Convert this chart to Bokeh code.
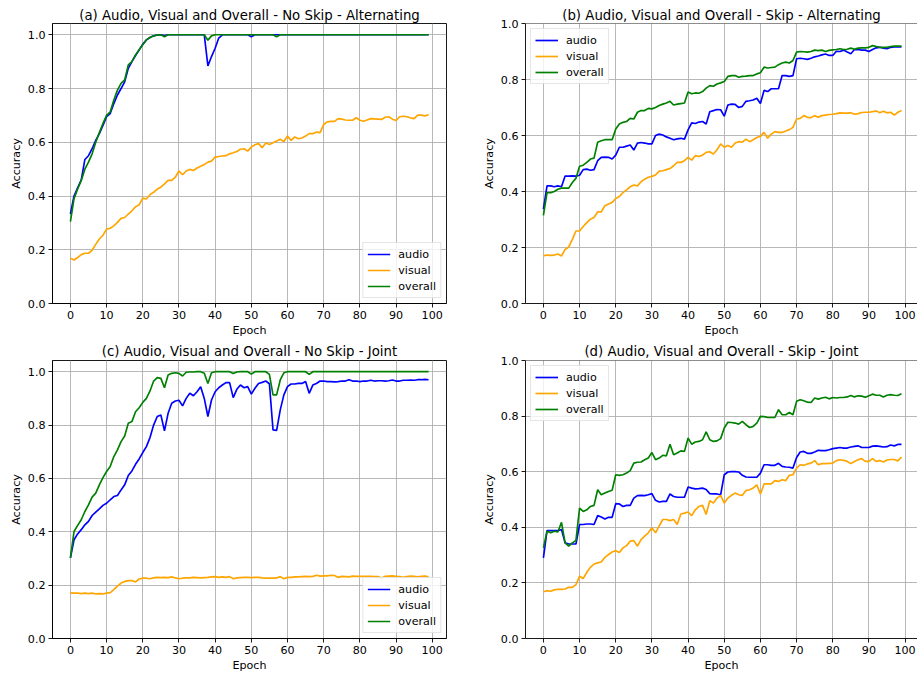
from bokeh.plotting import figure
from bokeh.layouts import column, row
from bokeh.models import Range1d, FixedTicker, PrintfTickFormatter, Span
from bokeh.embed import file_html
from bokeh.resources import INLINE

epochs = list(range(100))
x_ticks = [0, 10, 20, 30, 40, 50, 60, 70, 80, 90, 100]
y_ticks = [0.0, 0.2, 0.4, 0.6, 0.8, 1.0]
series_names = ["audio", "visual", "overall"]
series_colors = ["blue", "orange", "green"]

titles = [
    "(a) Audio, Visual and Overall - No Skip - Alternating",
    "(b) Audio, Visual and Overall - Skip - Alternating",
    "(c) Audio, Visual and Overall - No Skip - Joint",
    "(d) Audio, Visual and Overall - Skip - Joint",
]

# (a) No Skip - Alternating
a_audio = [0.333, 0.40, 0.43, 0.46, 0.536, 0.55, 0.576, 0.607, 0.632, 0.663,
           0.695, 0.707, 0.744, 0.776, 0.80, 0.825, 0.875, 0.90, 0.923, 0.944,
           0.965, 0.981, 0.99, 0.996, 0.999, 1.0, 0.997, 1.0, 1.0, 1.0,
           1.0, 1.0, 1.0, 1.0, 1.0, 1.0, 1.0, 1.0, 0.884, 0.919,
           0.95, 0.988, 1.0, 1.0, 1.0, 1.0, 1.0, 1.0, 1.0, 1.0,
           0.993, 1.0, 1.0, 1.0, 1.0, 1.0, 1.0, 1.0, 1.0, 1.0,
           1.0, 1.0, 1.0, 1.0, 1.0, 1.0, 1.0, 1.0, 1.0, 1.0,
           1.0, 1.0, 1.0, 1.0, 1.0, 1.0, 1.0, 1.0, 1.0, 1.0,
           1.0, 1.0, 1.0, 1.0, 1.0, 1.0, 1.0, 1.0, 1.0, 1.0,
           1.0, 1.0, 1.0, 1.0, 1.0, 1.0, 1.0, 1.0, 1.0, 1.0]
a_visual = [0.168, 0.162, 0.171, 0.182, 0.187, 0.187, 0.198, 0.22, 0.24, 0.254,
            0.277, 0.28, 0.289, 0.302, 0.317, 0.32, 0.333, 0.345, 0.36, 0.367,
            0.392, 0.389, 0.405, 0.414, 0.426, 0.433, 0.445, 0.458, 0.458, 0.47,
            0.493, 0.479, 0.493, 0.499, 0.495, 0.504, 0.511, 0.517, 0.526, 0.53,
            0.545, 0.547, 0.549, 0.55, 0.557, 0.561, 0.566, 0.574, 0.576, 0.567,
            0.582, 0.591, 0.595, 0.58, 0.597, 0.592, 0.598, 0.605, 0.611, 0.603,
            0.623, 0.607, 0.62, 0.613, 0.616, 0.623, 0.632, 0.632, 0.638, 0.636,
            0.666, 0.676, 0.678, 0.678, 0.688, 0.686, 0.683, 0.682, 0.682, 0.691,
            0.682, 0.678, 0.683, 0.688, 0.687, 0.686, 0.685, 0.693, 0.695, 0.686,
            0.681, 0.695, 0.697, 0.695, 0.691, 0.688, 0.701, 0.701, 0.698, 0.703]
a_overall = [0.305, 0.39, 0.426, 0.458, 0.50, 0.526, 0.557, 0.60, 0.636, 0.67,
             0.70, 0.713, 0.757, 0.794, 0.819, 0.832, 0.888, 0.90, 0.925, 0.944,
             0.963, 0.981, 0.99, 0.996, 0.999, 1.0, 0.993, 1.0, 1.0, 1.0,
             1.0, 1.0, 1.0, 1.0, 1.0, 1.0, 1.0, 1.0, 0.98, 0.996,
             1.0, 1.0, 1.0, 1.0, 1.0, 1.0, 1.0, 1.0, 1.0, 1.0,
             1.0, 1.0, 1.0, 1.0, 1.0, 1.0, 1.0, 0.993, 1.0, 1.0,
             1.0, 1.0, 1.0, 1.0, 1.0, 1.0, 1.0, 1.0, 1.0, 1.0,
             1.0, 1.0, 1.0, 1.0, 1.0, 1.0, 1.0, 1.0, 1.0, 1.0,
             1.0, 1.0, 1.0, 1.0, 1.0, 1.0, 1.0, 1.0, 1.0, 1.0,
             1.0, 1.0, 1.0, 1.0, 1.0, 1.0, 1.0, 1.0, 1.0, 1.0]

# (b) Skip - Alternating
b_audio = [0.337, 0.42, 0.42, 0.417, 0.42, 0.417, 0.455, 0.455, 0.456, 0.455,
           0.458, 0.478, 0.48, 0.476, 0.478, 0.51, 0.522, 0.523, 0.522, 0.516,
           0.53, 0.558, 0.558, 0.562, 0.566, 0.548, 0.573, 0.575, 0.573, 0.57,
           0.57, 0.60, 0.605, 0.602, 0.595, 0.59, 0.585, 0.588, 0.59, 0.587,
           0.62, 0.645, 0.643, 0.648, 0.65, 0.641, 0.685, 0.689, 0.693, 0.692,
           0.669, 0.709, 0.712, 0.711, 0.70, 0.704, 0.722, 0.724, 0.727, 0.733,
           0.714, 0.761, 0.757, 0.767, 0.767, 0.767, 0.814, 0.814, 0.811, 0.814,
           0.874, 0.876, 0.874, 0.872, 0.876, 0.881, 0.884, 0.888, 0.891, 0.886,
           0.886, 0.901, 0.90, 0.905, 0.898, 0.892, 0.907, 0.907, 0.905, 0.905,
           0.90, 0.907, 0.913, 0.915, 0.912, 0.91, 0.915, 0.916, 0.916, 0.916]
b_visual = [0.17, 0.173, 0.172, 0.173, 0.177, 0.17, 0.193, 0.202, 0.229, 0.259,
            0.259, 0.275, 0.289, 0.301, 0.307, 0.327, 0.327, 0.349, 0.355, 0.361,
            0.375, 0.382, 0.396, 0.406, 0.417, 0.423, 0.42, 0.435, 0.444, 0.451,
            0.454, 0.459, 0.473, 0.474, 0.478, 0.482, 0.492, 0.504, 0.504, 0.51,
            0.522, 0.512, 0.528, 0.525, 0.53, 0.54, 0.542, 0.534, 0.549, 0.57,
            0.558, 0.564, 0.558, 0.573, 0.578, 0.576, 0.587, 0.578, 0.585, 0.593,
            0.597, 0.611, 0.59, 0.605, 0.614, 0.611, 0.611, 0.616, 0.621, 0.629,
            0.659, 0.661, 0.671, 0.665, 0.664, 0.671, 0.665, 0.671, 0.673, 0.675,
            0.676, 0.678, 0.681, 0.68, 0.68, 0.681, 0.676, 0.678, 0.682, 0.683,
            0.683, 0.685, 0.688, 0.681, 0.687, 0.681, 0.683, 0.673, 0.683, 0.689]
b_overall = [0.315, 0.396, 0.396, 0.40, 0.408, 0.412, 0.412, 0.412, 0.432, 0.447,
             0.49, 0.494, 0.504, 0.516, 0.519, 0.576, 0.581, 0.585, 0.585, 0.585,
             0.623, 0.641, 0.647, 0.65, 0.661, 0.659, 0.683, 0.689, 0.689, 0.697,
             0.695, 0.70, 0.707, 0.712, 0.716, 0.722, 0.709, 0.712, 0.714, 0.716,
             0.755, 0.749, 0.752, 0.751, 0.757, 0.769, 0.778, 0.776, 0.784, 0.788,
             0.793, 0.811, 0.814, 0.814, 0.808, 0.811, 0.812, 0.814, 0.814, 0.82,
             0.824, 0.844, 0.841, 0.843, 0.844, 0.853, 0.859, 0.862, 0.859, 0.868,
             0.898, 0.90, 0.899, 0.898, 0.90, 0.905, 0.903, 0.905, 0.90, 0.904,
             0.906, 0.907, 0.91, 0.907, 0.908, 0.912, 0.908, 0.912, 0.913, 0.913,
             0.915, 0.921, 0.918, 0.915, 0.915, 0.915, 0.918, 0.919, 0.919, 0.919]

# (c) No Skip - Joint
c_audio = [0.302, 0.37, 0.392, 0.408, 0.426, 0.439, 0.461, 0.474, 0.486, 0.499,
           0.507, 0.52, 0.532, 0.536, 0.557, 0.576, 0.611, 0.628, 0.653, 0.673,
           0.697, 0.719, 0.753, 0.80, 0.832, 0.838, 0.778, 0.844, 0.882, 0.89,
           0.893, 0.872, 0.90, 0.919, 0.91, 0.925, 0.944, 0.90, 0.832, 0.894,
           0.925, 0.94, 0.95, 0.959, 0.959, 0.903, 0.934, 0.95, 0.94, 0.944,
           0.916, 0.938, 0.956, 0.96, 0.965, 0.955, 0.782, 0.78, 0.857, 0.913,
           0.944, 0.954, 0.954, 0.956, 0.956, 0.963, 0.919, 0.95, 0.956, 0.965,
           0.965, 0.963, 0.963, 0.962, 0.963, 0.965, 0.965, 0.97, 0.965, 0.965,
           0.963, 0.965, 0.965, 0.968, 0.965, 0.966, 0.966, 0.965, 0.966, 0.969,
           0.965, 0.965, 0.968, 0.968, 0.969, 0.968, 0.97, 0.97, 0.971, 0.97]
c_visual = [0.171, 0.17, 0.17, 0.168, 0.17, 0.168, 0.17, 0.167, 0.168, 0.167,
            0.17, 0.172, 0.183, 0.196, 0.208, 0.214, 0.217, 0.217, 0.212, 0.223,
            0.226, 0.226, 0.224, 0.227, 0.229, 0.228, 0.229, 0.228, 0.231, 0.227,
            0.224, 0.226, 0.227, 0.227, 0.229, 0.228, 0.227, 0.228, 0.229, 0.231,
            0.232, 0.229, 0.231, 0.229, 0.232, 0.224, 0.227, 0.228, 0.229, 0.229,
            0.228, 0.229, 0.229, 0.227, 0.226, 0.226, 0.226, 0.227, 0.232, 0.224,
            0.229, 0.229, 0.231, 0.231, 0.232, 0.233, 0.232, 0.233, 0.237, 0.234,
            0.235, 0.235, 0.237, 0.236, 0.229, 0.233, 0.232, 0.231, 0.234, 0.233,
            0.233, 0.233, 0.233, 0.233, 0.232, 0.232, 0.227, 0.233, 0.234, 0.235,
            0.233, 0.232, 0.229, 0.232, 0.234, 0.233, 0.231, 0.233, 0.234, 0.231]
c_overall = [0.302, 0.401, 0.424, 0.445, 0.476, 0.501, 0.53, 0.545, 0.576, 0.603,
             0.626, 0.645, 0.682, 0.707, 0.738, 0.759, 0.807, 0.813, 0.85, 0.865,
             0.885, 0.90, 0.928, 0.965, 0.978, 0.975, 0.94, 0.988, 0.994, 0.996,
             0.994, 0.984, 0.998, 0.999, 0.999, 1.0, 1.0, 0.994, 0.956, 0.996,
             1.0, 1.0, 1.0, 1.0, 1.0, 0.993, 0.999, 1.0, 1.0, 1.0,
             0.991, 1.0, 1.0, 1.0, 1.0, 0.99, 0.913, 0.913, 0.969, 0.996,
             1.0, 1.0, 1.0, 1.0, 1.0, 1.0, 0.99, 1.0, 1.0, 1.0,
             1.0, 1.0, 1.0, 1.0, 1.0, 1.0, 1.0, 1.0, 1.0, 1.0,
             1.0, 1.0, 1.0, 1.0, 1.0, 1.0, 1.0, 1.0, 1.0, 1.0,
             1.0, 1.0, 1.0, 1.0, 1.0, 1.0, 1.0, 1.0, 1.0, 1.0]

# (d) Skip - Joint
d_audio = [0.29, 0.388, 0.388, 0.388, 0.388, 0.392, 0.344, 0.34, 0.34, 0.34,
           0.41, 0.41, 0.412, 0.412, 0.41, 0.442, 0.437, 0.43, 0.436, 0.436,
           0.485, 0.484, 0.475, 0.479, 0.479, 0.505, 0.514, 0.515, 0.514, 0.517,
           0.521, 0.497, 0.491, 0.493, 0.493, 0.52, 0.511, 0.508, 0.508, 0.508,
           0.545, 0.541, 0.538, 0.539, 0.541, 0.536, 0.521, 0.52, 0.52, 0.517,
           0.589, 0.599, 0.60, 0.60, 0.599, 0.587, 0.581, 0.58, 0.58, 0.58,
           0.595, 0.625, 0.625, 0.623, 0.623, 0.63, 0.619, 0.617, 0.616, 0.613,
           0.651, 0.671, 0.673, 0.666, 0.666, 0.671, 0.677, 0.676, 0.676, 0.679,
           0.683, 0.685, 0.687, 0.685, 0.685, 0.689, 0.691, 0.693, 0.687, 0.687,
           0.687, 0.692, 0.693, 0.691, 0.689, 0.69, 0.696, 0.693, 0.698, 0.698]
d_visual = [0.168, 0.172, 0.17, 0.175, 0.177, 0.177, 0.178, 0.184, 0.184, 0.194,
            0.224, 0.216, 0.238, 0.256, 0.268, 0.272, 0.275, 0.292, 0.302, 0.311,
            0.316, 0.309, 0.326, 0.334, 0.35, 0.352, 0.332, 0.356, 0.368, 0.38,
            0.398, 0.38, 0.404, 0.428, 0.428, 0.424, 0.428, 0.41, 0.448, 0.451,
            0.455, 0.442, 0.463, 0.475, 0.479, 0.446, 0.496, 0.487, 0.505, 0.515,
            0.487, 0.505, 0.515, 0.523, 0.517, 0.515, 0.532, 0.535, 0.541, 0.553,
            0.52, 0.556, 0.556, 0.556, 0.568, 0.565, 0.571, 0.568, 0.587, 0.589,
            0.613, 0.625, 0.623, 0.628, 0.631, 0.64, 0.625, 0.629, 0.629, 0.63,
            0.631, 0.64, 0.643, 0.641, 0.637, 0.629, 0.637, 0.643, 0.647, 0.637,
            0.637, 0.647, 0.637, 0.64, 0.635, 0.642, 0.644, 0.644, 0.639, 0.653]
d_overall = [0.326, 0.386, 0.38, 0.386, 0.383, 0.418, 0.344, 0.332, 0.344, 0.353,
             0.469, 0.457, 0.463, 0.475, 0.479, 0.535, 0.517, 0.523, 0.529, 0.533,
             0.589, 0.587, 0.589, 0.595, 0.604, 0.631, 0.634, 0.635, 0.643, 0.649,
             0.669, 0.643, 0.649, 0.659, 0.657, 0.699, 0.661, 0.667, 0.675, 0.673,
             0.721, 0.699, 0.707, 0.709, 0.715, 0.743, 0.715, 0.709, 0.711, 0.719,
             0.757, 0.778, 0.777, 0.775, 0.771, 0.781, 0.769, 0.759, 0.763, 0.775,
             0.799, 0.798, 0.795, 0.795, 0.795, 0.823, 0.805, 0.805, 0.813, 0.805,
             0.853, 0.859, 0.855, 0.85, 0.849, 0.865, 0.861, 0.865, 0.868, 0.862,
             0.867, 0.865, 0.867, 0.867, 0.869, 0.874, 0.869, 0.873, 0.872, 0.868,
             0.873, 0.879, 0.875, 0.875, 0.869, 0.875, 0.877, 0.875, 0.874, 0.88]

FONT = "DejaVu Sans"
TICK_FS = "11.1px"
TITLE_FS = "13.3px"


def make_panel(title, series, left_col, top_row, y_end, legend_loc):
    if left_col:
        width, mbl, mbr, x_end = 469, 52, 23, 103.95
    else:
        width, mbl, mbr, x_end = 448, 56, 0, 103.43
    if top_row:
        height, mbt, mbb, standoff = 339, 23, 36, 2
    else:
        height, mbt, mbb, standoff = 338, 21, 39, 3
    p = figure(width=width, height=height, output_backend="svg",
               toolbar_location=None,
               x_range=Range1d(-4.95, x_end), y_range=Range1d(0, y_end),
               min_border_left=mbl, min_border_right=mbr,
               min_border_top=mbt, min_border_bottom=mbb, title=title)
    p.background_fill_color = "white"
    p.border_fill_color = "white"
    p.title.text_font = FONT
    p.title.text_font_size = TITLE_FS
    p.title.text_font_style = "normal"
    p.title.text_color = "black"
    p.title.align = "center"
    p.title.standoff = standoff

    p.xaxis.ticker = FixedTicker(ticks=x_ticks)
    p.yaxis.ticker = FixedTicker(ticks=y_ticks)
    p.yaxis.formatter = PrintfTickFormatter(format="%.1f")
    p.xaxis.axis_label = "Epoch"
    p.yaxis.axis_label = "Accuracy"
    for ax in (p.xaxis, p.yaxis):
        ax.major_label_text_font = FONT
        ax.major_label_text_font_size = TICK_FS
        ax.major_label_text_color = "black"
        ax.axis_label_text_font = FONT
        ax.axis_label_text_font_size = TICK_FS
        ax.axis_label_text_font_style = "normal"
        ax.axis_label_text_color = "black"
        ax.axis_line_color = "black"
        ax.axis_line_width = 0.9
        ax.major_tick_line_color = "black"
        ax.major_tick_line_width = 0.9
        ax.major_tick_out = 4
        ax.major_tick_in = 0
        ax.minor_tick_line_color = None
        ax.major_label_standoff = 3
        ax.axis_label_standoff = 2

    p.grid.grid_line_color = "#b0b0b0"
    p.grid.grid_line_width = 0.9

    if left_col:
        p.outline_line_color = "black"
        p.outline_line_width = 0.9
    else:
        p.outline_line_color = None
        p.add_layout(Span(location=1.0, dimension="width",
                          line_color="black", line_width=0.9))

    for name, color, vals in zip(series_names, series_colors, series):
        p.line(epochs, vals, line_color=color, line_width=1.67,
               legend_label=name)

    lg = p.legend[0]
    lg.location = legend_loc
    lg.label_text_font = FONT
    lg.label_text_font_size = TICK_FS
    lg.label_text_color = "black"
    lg.glyph_width = 23
    lg.glyph_height = 14
    lg.label_height = 14
    lg.label_standoff = 8
    lg.padding = 4
    lg.spacing = 2
    lg.margin = 5
    lg.border_line_color = "#cccccc"
    lg.border_line_width = 1
    lg.background_fill_alpha = 0.8
    return p


pa = make_panel(titles[0], [a_audio, a_visual, a_overall], True, True, 1.042, "bottom_right")
pb = make_panel(titles[1], [b_audio, b_visual, b_overall], False, True, 1.0, "top_left")
pc = make_panel(titles[2], [c_audio, c_visual, c_overall], True, False, 1.042, "bottom_right")
pd = make_panel(titles[3], [d_audio, d_visual, d_overall], False, False, 1.0, "top_left")

layout = column(row(pa, pb), row(pc, pd))

with open("out.html", "w") as f:
    f.write(file_html(layout, INLINE))
